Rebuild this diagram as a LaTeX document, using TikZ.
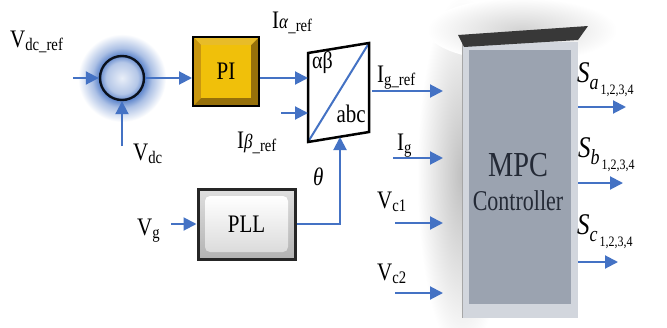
\documentclass[tikz,border=0pt]{standalone}
\usepackage{fontspec}
\setmainfont{Liberation Serif}
\newfontfamily\tnr{Liberation Serif}
\usetikzlibrary{arrows.meta}
\definecolor{ablue}{RGB}{68,114,196}
\definecolor{golddark}{RGB}{150,112,10}
\definecolor{goldmid}{RGB}{200,150,15}
\definecolor{goldlight}{RGB}{232,188,40}
\definecolor{goldface}{RGB}{240,192,10}
\definecolor{mpcface}{RGB}{155,163,176}
\definecolor{mpcrim}{RGB}{210,214,221}
\definecolor{mpctext}{RGB}{36,42,54}
\pgfdeclareradialshading{glow}{\pgfpoint{0bp}{0bp}}{color(0bp)=(ablue!12!white); color(9bp)=(ablue!40!white); color(13bp)=(ablue!85!white); color(17bp)=(ablue!45!white); color(25bp)=(white); color(50bp)=(white)}
\newcommand\tall[1]{\scalebox{1}[1.2]{#1}}
\newcommand\Slab[1]{\tall{{\fontsize{25}{25}\selectfont\textit{S}}\raisebox{-6pt}{\fontsize{18}{18}\selectfont\textit{#1}}\raisebox{-10pt}{\fontsize{12}{12}\selectfont\,1,2,3,4}}}
\newcommand\grk[1]{{\fontsize{17}{17}\selectfont\textit{#1}}}
\begin{document}
\begin{tikzpicture}[x=1pt,y=-1pt,
  conn/.style={draw=ablue,line width=2pt,-{Triangle[length=13pt,width=13pt]}},
  lbl/.style={inner sep=0pt,anchor=base west,font=\tnr\fontsize{21}{24}\selectfont},
  boxtxt/.style={font=\tnr\fontsize{21}{24}\selectfont}]
\useasboundingbox (0,0) rectangle (667,327);
\fill[white] (0,0) rectangle (667,327);

% soft shadows of the MPC block
\shade[inner color=gray!50,outer color=white] (462,175) ellipse (45 and 180);
\shade[inner color=gray!35,outer color=white] (522,30) ellipse (95 and 32);

% summing junction with glow
\shade[shading=glow] (122,78) circle (44);
\node[circle,draw=black!85!ablue,line width=2.4pt,minimum size=44pt,inner sep=0pt] (sum) at (122,78) {};

% PI block (bevelled gold)
\fill[golddark] (193,37) rectangle (259,106);
\fill[goldlight] (193,37) -- (259,37) -- (251,45) -- (201,45) -- cycle;
\fill[goldmid] (193,37) -- (201,45) -- (201,98) -- (193,106) -- cycle;
\fill[goldface] (201,45) rectangle (251,98);
\node[draw=black,line width=2pt,minimum width=66pt,minimum height=69pt,inner sep=0pt,boxtxt] (pi) at (226,71.5) {\tall{PI}};

% alpha-beta / abc block
\coordinate (tl) at (308,53);
\coordinate (tr) at (369,43);
\coordinate (br) at (369,132);
\coordinate (bl) at (308,142);
\fill[white] (tl) -- (tr) -- (br) -- (bl) -- cycle;
\draw[ablue,line width=2pt] (bl) -- (tr);
\draw[black,line width=2.5pt,line join=miter] (tl) -- (tr) -- (br) -- (bl) -- cycle;
\node[lbl,font=\tnr\fontsize{20}{22}\selectfont] (ab) at (312,68) {\tall{αβ}};
\node[lbl,anchor=base east,font=\tnr\fontsize{21}{22}\selectfont] (abcl) at (366,122) {\tall{abc}};

% PLL block
\shade[top color=gray!25,bottom color=gray!60] (198,189) rectangle (295,259);
\shade[top color=white,bottom color=gray!28,rounded corners=5pt] (205,196) rectangle (288,252);
\node[draw=black!85,line width=3pt,minimum width=97pt,minimum height=70pt,inner sep=0pt,boxtxt] (pll) at (246.5,224) {\tall{PLL}};

% MPC block
\fill[mpcrim] (462,42) rectangle (578,318);
\fill[mpcface] (469,50) rectangle (571,304);
\draw[gray!70,line width=1pt] (462,42) -- (462,318);
\fill[black!78] (458,35) -- (588,26) -- (578,40) -- (464,47) -- cycle;
\node[inner sep=0pt,minimum width=116pt,minimum height=276pt] (mpc) at (520,180) {};
\node[align=center,text=mpctext,font=\tnr\fontsize{22}{34}\selectfont] (mpctxt) at (518,182) {\scalebox{1.05}[1.3]{\fontsize{27}{27}\selectfont MPC}\\\scalebox{1}[1.3]{Controller}};

% connectors
\coordinate (vin) at (73,78);
\draw[conn] (vin) -- (sum.west);
\coordinate (vdcin) at (122,146);
\draw[conn] (vdcin) -- (sum.south);
\draw[conn] (sum.east) -- (sum.east -| pi.west);
\coordinate (abcA) at (308,78);
\draw[conn] (pi.east |- abcA) -- (abcA);
\coordinate (ibin) at (281,113);
\coordinate (abcB) at (308,113);
\draw[conn] (ibin) -- (abcB);
\coordinate (abcC) at (340,137);
\draw[conn] (pll.east) -| (abcC);
\coordinate (vgin) at (171,224);
\draw[conn] (vgin) -- (pll.west);

\coordinate (igr1) at (372,91);  \coordinate (igr2) at (443,91);
\coordinate (ig1) at (393,158);  \coordinate (ig2) at (443,158);
\coordinate (vc11) at (395,223); \coordinate (vc12) at (443,223);
\coordinate (vc21) at (395,293); \coordinate (vc22) at (443,293);
\draw[conn] (igr1) -- (igr2);
\draw[conn] (ig1) -- (ig2);
\draw[conn] (vc11) -- (vc12);
\draw[conn] (vc21) -- (vc22);

\coordinate (sa) at (626,107);
\coordinate (sb) at (623,183);
\coordinate (sc) at (618,262);
\draw[conn] (mpc.east |- sa) -- (sa);
\draw[conn] (mpc.east |- sb) -- (sb);
\draw[conn] (mpc.east |- sc) -- (sc);

% labels
\node[lbl] (lvdcref) at (10,47) {\tall{V\textsubscript{dc\_ref}}};
\node[lbl] (lvdc) at (133,160) {\tall{V\textsubscript{dc}}};
\node[lbl] (lia) at (272,28) {\tall{I\grk{α}\textsubscript{\_ref}}};
\node[lbl] (lib) at (237,148) {\tall{I\grk{β}\textsubscript{\_ref}}};
\node[lbl] (lth) at (313,185) {\tall{\textit{θ}}};
\node[lbl] (ligr) at (377,82) {\tall{I\textsubscript{g\_ref}}};
\node[lbl] (lig) at (397,150) {\tall{I\textsubscript{g}}};
\node[lbl] (lvc1) at (377,208) {\tall{V\textsubscript{c1}}};
\node[lbl] (lvc2) at (377,280) {\tall{V\textsubscript{c2}}};
\node[lbl] (lvg) at (137,235) {\tall{V\textsubscript{g}}};
\node[lbl] (lsa) at (577,82) {\Slab{a}};
\node[lbl] (lsb) at (578,157) {\Slab{b}};
\node[lbl] (lsc) at (577,234) {\Slab{c}};
\end{tikzpicture}
\end{document}
